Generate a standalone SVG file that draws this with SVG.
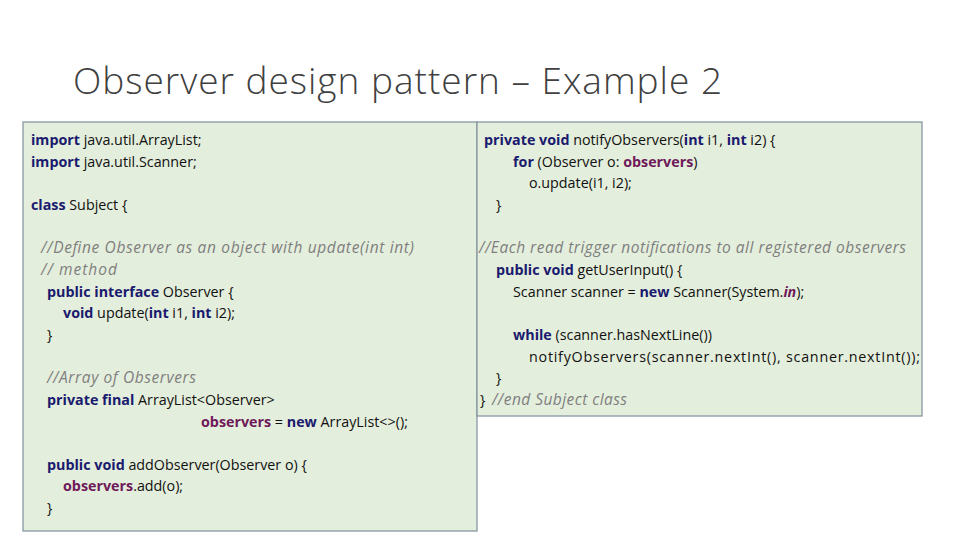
<svg xmlns="http://www.w3.org/2000/svg" width="960" height="540" viewBox="0 0 960 540">
<style>
.c{font-family:"Open Sans","Noto Sans",sans-serif;font-size:14.3px;fill:#111}
.k{fill:#1a1a6e;font-weight:bold}
.p{fill:#6e1a5a;font-weight:bold}
.m{fill:#7f7f7f;font-style:italic;font-size:15.5px}
.box{fill:#e4eedc;stroke:#8797a3;stroke-width:1.3}
</style>
<rect width="960" height="540" fill="#fff"/>
<text x="73" y="94" textLength="649" style="font-family:'Open Sans','Noto Sans',sans-serif;font-size:37px;font-weight:300;fill:#404040">Observer design pattern – Example 2</text>
<g id="left">
<rect class="box" x="23" y="122" width="454" height="409"/>
<g class="c">
<text x="31" y="145"><tspan class="k">import</tspan> java.util.ArrayList;</text>
<text x="31" y="167"><tspan class="k">import</tspan> java.util.Scanner;</text>
<text x="31" y="210"><tspan class="k">class</tspan> Subject {</text>
<text x="41" y="253" class="m" textLength="373">//Define Observer as an object with update(int int)</text>
<text x="41" y="275" class="m" textLength="76">// method</text>
<text x="47" y="297"><tspan class="k">public interface</tspan> Observer {</text>
<text x="63" y="318"><tspan class="k">void</tspan> update(<tspan class="k">int</tspan> i1, <tspan class="k">int</tspan> i2);</text>
<text x="47" y="340">}</text>
<text x="47" y="383" class="m" textLength="149">//Array of Observers</text>
<text x="47" y="405"><tspan class="k">private final</tspan> ArrayList&lt;Observer&gt;</text>
<text x="201" y="427"><tspan class="p">observers</tspan> = <tspan class="k">new</tspan> ArrayList&lt;&gt;();</text>
<text x="47" y="470"><tspan class="k">public void</tspan> addObserver(Observer o) {</text>
<text x="63" y="491"><tspan class="p">observers</tspan>.add(o);</text>
<text x="47" y="513">}</text>
</g>
</g>
<g id="right">
<rect class="box" x="477" y="122" width="445" height="294"/>
<g class="c">
<text x="484" y="145"><tspan class="k">private void</tspan> notifyObservers(<tspan class="k">int</tspan> i1, <tspan class="k">int</tspan> i2) {</text>
<text x="513" y="167"><tspan class="k">for</tspan> (Observer o: <tspan class="p">observers</tspan>)</text>
<text x="529" y="188">o.update(i1, i2);</text>
<text x="496" y="210">}</text>
<text x="479" y="253" class="m" textLength="427">//Each read trigger notifications to all registered observers</text>
<text x="496" y="275"><tspan class="k">public void</tspan> getUserInput() {</text>
<text x="513" y="297">Scanner scanner = <tspan class="k">new</tspan> Scanner(System.<tspan class="p" font-style="italic">in</tspan>);</text>
<text x="513" y="340"><tspan class="k">while</tspan> (scanner.hasNextLine())</text>
<text x="529" y="362" textLength="391">notifyObservers(scanner.nextInt(), scanner.nextInt());</text>
<text x="496" y="383">}</text>
<text x="480" y="405">}</text>
<text x="492" y="405" class="m" textLength="135">//end Subject class</text>
</g>
</g>
</svg>
